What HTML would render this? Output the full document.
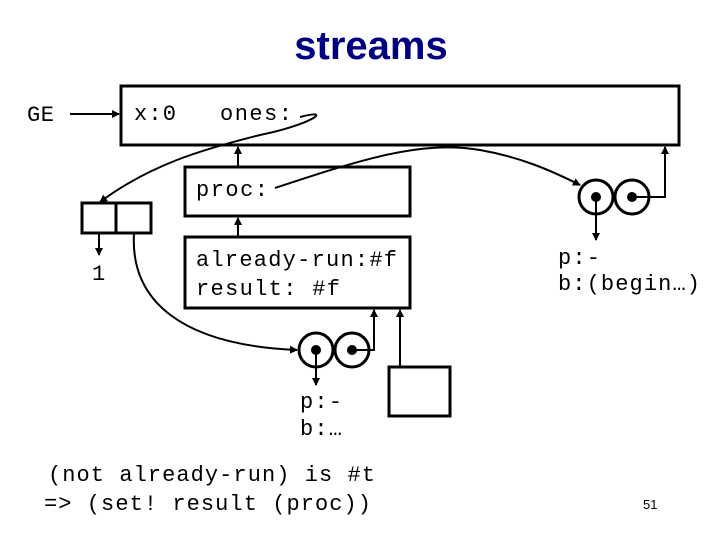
<!DOCTYPE html>
<html><head><style>
html,body{margin:0;padding:0;background:#fff;}
svg{display:block}
.m{font-family:"Liberation Mono",monospace;font-size:22px;fill:#000}
</style></head><body>
<svg width="720" height="540" viewBox="0 0 720 540" xmlns="http://www.w3.org/2000/svg">
<defs><marker id="a" markerWidth="8" markerHeight="8" refX="7" refY="4" orient="auto" markerUnits="userSpaceOnUse"><path d="M0,0 L8,4 L0,8 z" fill="#000"/></marker></defs>
<text x="371" y="59" text-anchor="middle" font-family="Liberation Sans,sans-serif" font-weight="bold" font-size="40" fill="#000080">streams</text>
<g fill="none" stroke="#000" stroke-width="3">
<rect x="121" y="86" width="558" height="59"/>
<rect x="185" y="167" width="225" height="49"/>
<rect x="185" y="237" width="225" height="71"/>
<rect x="82" y="203" width="34" height="30"/>
<rect x="116" y="203" width="35" height="30"/>
<rect x="389" y="367" width="61" height="49"/>
<circle cx="596" cy="197" r="17"/><circle cx="632" cy="197" r="17"/>
<circle cx="316" cy="350" r="17"/><circle cx="352" cy="350" r="17"/>
</g>
<g fill="none" stroke="#000" stroke-width="2">
<line x1="70" y1="114" x2="119" y2="114" marker-end="url(#a)"/>
<path d="M300,117 C335,108 310,125 260,135 C200,150 150,165 100,202" marker-end="url(#a)"/>
<line x1="238" y1="166" x2="238" y2="147" marker-end="url(#a)"/>
<line x1="238" y1="236" x2="238" y2="218" marker-end="url(#a)"/>
<path d="M275,188 C360,160 420,140 480,150 C520,157 550,170 580,185" marker-end="url(#a)"/>
<path d="M632,197 L665,197 L665,147" marker-end="url(#a)"/>
<line x1="596" y1="197" x2="596" y2="240" marker-end="url(#a)"/>
<line x1="99" y1="233" x2="99" y2="255" marker-end="url(#a)"/>
<path d="M134,233 C130,300 180,345 297,350" marker-end="url(#a)"/>
<path d="M352,350 L374,350 L374,310" marker-end="url(#a)"/>
<line x1="400" y1="366" x2="400" y2="310" marker-end="url(#a)"/>
<line x1="316" y1="350" x2="316" y2="385" marker-end="url(#a)"/>
</g>
<g fill="#000"><circle cx="596" cy="197" r="5"/><circle cx="632" cy="197" r="5"/><circle cx="316" cy="350" r="5"/><circle cx="352" cy="350" r="5"/></g>
<text class="m" x="27" y="121" textLength="27">GE</text>
<text class="m" x="134" y="120" textLength="42">x:0</text>
<text class="m" x="220" y="120" textLength="72">ones:</text>
<text class="m" x="196" y="196" textLength="72">proc:</text>
<text class="m" x="196" y="266" textLength="201">already-run:#f</text>
<text class="m" x="196" y="295" textLength="144">result: #f</text>
<text class="m" x="92" y="280">1</text>
<text class="m" x="558" y="264" textLength="42">p:-</text>
<text class="m" x="558" y="290" textLength="142">b:(begin…)</text>
<text class="m" x="300" y="408" textLength="42">p:-</text>
<text class="m" x="300" y="435" textLength="42">b:…</text>
<text class="m" x="48" y="481" textLength="327">(not already-run) is #t</text>
<text class="m" x="44" y="510" textLength="327">=&gt; (set! result (proc))</text>
<text x="643" y="509" font-family="Liberation Sans,sans-serif" font-size="13" fill="#000">51</text>
</svg>
</body></html>
